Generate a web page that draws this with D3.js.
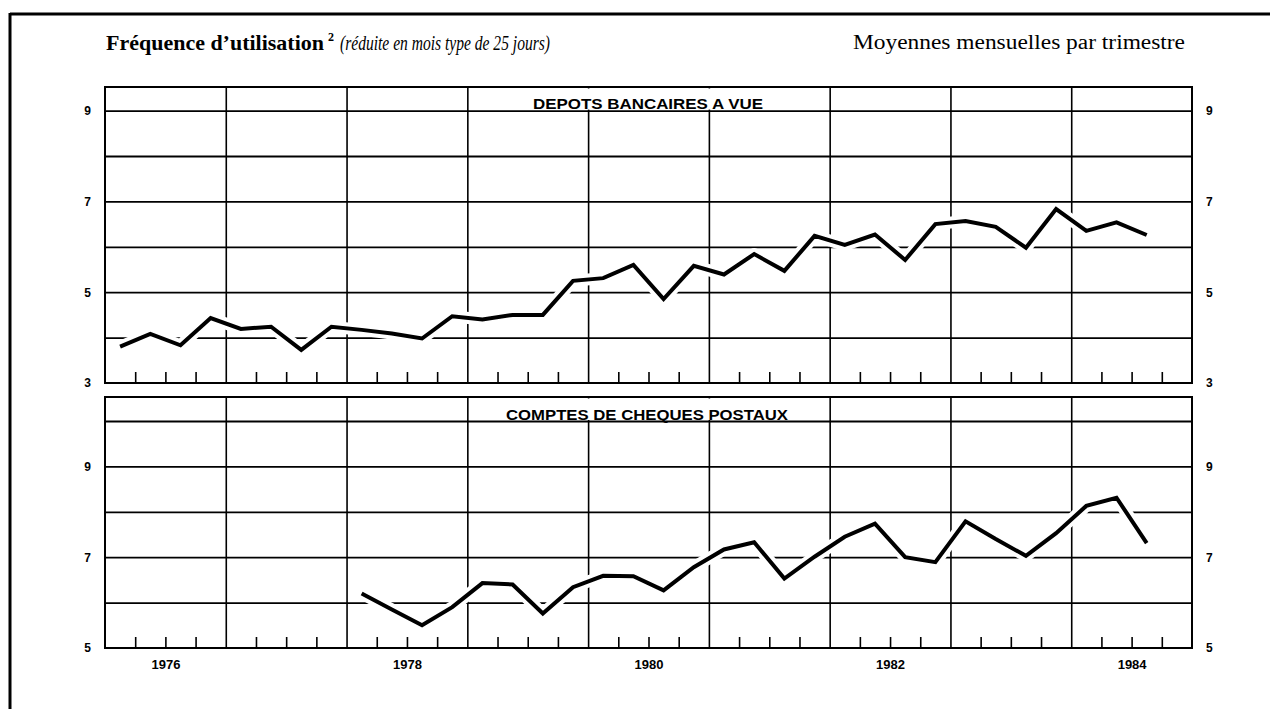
<!DOCTYPE html>
<html>
<head>
<meta charset="utf-8">
<script src="https://cdn.jsdelivr.net/npm/d3@7"></script>
<style>
  body { margin: 0; background: #fff; }
  svg { display: block; }
</style>
</head>
<body>
<svg id="chart" width="1270" height="709"></svg>
<script>
// --- data ---
const years = [1976, 1977, 1978, 1979, 1980, 1981, 1982, 1983, 1984]
const quarterNames = ['T1', 'T2', 'T3', 'T4']
const yearLabels = [1976, 1978, 1980, 1982, 1984]

const depotsTitle = 'DEPOTS BANCAIRES A VUE'
const depotsStart = '1976T1'
const depotsValues = [3.80, 4.08, 3.83, 4.43, 4.19, 4.24, 3.73, 4.24, 4.17, 4.09, 3.98, 4.47,
  4.40, 4.50, 4.50, 5.25, 5.31, 5.60, 4.85, 5.58, 5.39, 5.84, 5.47, 6.24,
  6.04, 6.27, 5.71, 6.50, 6.57, 6.44, 5.98, 6.83, 6.35, 6.54, 6.26]
const depotsTicks = [3, 5, 7, 9]

const ccpTitle = 'COMPTES DE CHEQUES POSTAUX'
const ccpStart = '1978T1'
const ccpValues = [6.20, 5.85, 5.50, 5.90, 6.43, 6.40, 5.76, 6.34, 6.59, 6.58, 6.27, 6.78,
  7.17, 7.33, 6.53, 7.01, 7.45, 7.74, 7.00, 6.89, 7.79, 7.40, 7.03, 7.53,
  8.13, 8.31, 7.31]
const ccpTicks = [5, 7, 9]

const quarters = years.flatMap(y => quarterNames.map(q => y + q))

const svg = d3.select('#chart')
svg.append('rect').attr('width', 1270).attr('height', 709).attr('fill', '#fff')

const left = 105, right = 1192
const xYear = d3.scaleLinear().domain([1976, 1985]).range([left, right])
const xQ = d3.scaleBand().domain(quarters).range([left, right]).padding(0)
const xMid = q => xQ(q) + xQ.bandwidth() / 2

// page frame
svg.append('line').attr('x1', 10).attr('x2', 1270).attr('y1', 14).attr('y2', 14)
  .attr('stroke', '#000').attr('stroke-width', 3)
svg.append('line').attr('x1', 10).attr('x2', 10).attr('y1', 13).attr('y2', 709)
  .attr('stroke', '#000').attr('stroke-width', 3)

// heading
svg.append('text').attr('x', 106).attr('y', 50)
  .attr('font-family', 'Liberation Serif').attr('font-weight', 'bold').attr('font-size', 21)
  .attr('textLength', 218).attr('lengthAdjust', 'spacingAndGlyphs')
  .text('Fréquence d\u2019utilisation')
svg.append('text').attr('x', 328).attr('y', 41)
  .attr('font-family', 'Liberation Serif').attr('font-weight', 'bold').attr('font-size', 12)
  .text('2')
svg.append('text').attr('x', 340).attr('y', 50)
  .attr('font-family', 'Liberation Serif').attr('font-style', 'italic').attr('font-size', 20)
  .attr('textLength', 210).attr('lengthAdjust', 'spacingAndGlyphs')
  .text('(réduite en mois type de 25 jours)')
svg.append('text').attr('x', 853).attr('y', 49)
  .attr('font-family', 'Liberation Serif').attr('font-size', 20)
  .attr('textLength', 332).attr('lengthAdjust', 'spacingAndGlyphs')
  .text('Moyennes mensuelles par trimestre')

const panels = [
  {title: depotsTitle, start: depotsStart, values: depotsValues, ticks: depotsTicks,
   min: 3, max: 9, top: 87, bottom: 383, titleX: 648, titleW: 230},
  {title: ccpTitle, start: ccpStart, values: ccpValues, ticks: ccpTicks,
   min: 5, max: 10, top: 397, bottom: 648, titleX: 647, titleW: 282}
]

const quarterTicks = years.flatMap(y => [0.25, 0.5, 0.75].map(f => y + f))

panels.forEach(p => {
  const unit = 45.4
  const yBase = d3.scaleLinear().domain([p.min, p.max]).range([p.bottom, p.bottom - unit * (p.max - p.min)])
  const topVal = yBase.invert(p.top)
  const y = d3.scaleLinear().domain([p.min, topVal]).range([p.bottom, p.top])
  const g = svg.append('g')

  // horizontal grid
  g.append('g').attr('transform', `translate(${left},0)`)
    .call(d3.axisLeft(y).tickValues(d3.range(p.min + 1, p.max + 1)).tickSize(-(right - left)).tickFormat(''))
    .call(a => a.select('.domain').remove())
    .call(a => a.selectAll('line').attr('stroke', '#000').attr('stroke-width', 1.8))

  // year verticals
  g.append('g').attr('transform', `translate(0,${p.top})`)
    .call(d3.axisBottom(xYear).tickValues(years.slice(1)).tickSize(p.bottom - p.top).tickFormat(''))
    .call(a => a.select('.domain').remove())
    .call(a => a.selectAll('line').attr('stroke', '#000').attr('stroke-width', 1.6))

  // quarter ticks
  g.append('g').attr('transform', `translate(0,${p.bottom})`)
    .call(d3.axisBottom(xYear).tickValues(quarterTicks).tickSize(-11).tickFormat(''))
    .call(a => a.select('.domain').remove())
    .call(a => a.selectAll('line').attr('stroke', '#000').attr('stroke-width', 1.6))

  // frame
  g.append('rect').attr('x', left).attr('y', p.top)
    .attr('width', right - left).attr('height', p.bottom - p.top)
    .attr('fill', 'none').attr('stroke', '#000').attr('stroke-width', 2)

  // value labels
  const styleLabels = a => {
    a.select('.domain').remove()
    a.selectAll('text').attr('font-family', 'Liberation Sans').attr('font-weight', 'bold')
      .attr('font-size', 12).attr('fill', '#000')
  }
  g.append('g').attr('transform', `translate(${left},0)`)
    .call(d3.axisLeft(y).tickValues(p.ticks).tickSize(0).tickPadding(14).tickFormat(d3.format('d')))
    .call(styleLabels)
  g.append('g').attr('transform', `translate(${right},0)`)
    .call(d3.axisRight(y).tickValues(p.ticks).tickSize(0).tickPadding(14).tickFormat(d3.format('d')))
    .call(styleLabels)

  // series
  const startIdx = quarters.indexOf(p.start)
  const pts = p.values.map((v, i) => [xMid(quarters[startIdx + i]), y(v)])
  const line = d3.line()
  g.append('path').attr('d', line(pts)).attr('fill', 'none')
    .attr('stroke', '#fff').attr('stroke-width', 12).attr('stroke-linejoin', 'round')
  g.append('path').attr('d', line(pts)).attr('fill', 'none')
    .attr('stroke', '#000').attr('stroke-width', 4).attr('stroke-linejoin', 'miter')

  // panel title sitting on the top gridline
  const baseY = y(p.max)
  g.append('rect').attr('x', p.titleX - p.titleW / 2 - 3).attr('y', p.top + 1.5)
    .attr('width', p.titleW + 6).attr('height', baseY - p.top - 2.5).attr('fill', '#fff')
  g.append('text').attr('x', p.titleX).attr('y', baseY - 1.5)
    .attr('text-anchor', 'middle')
    .attr('font-family', 'Liberation Sans').attr('font-weight', 'bold').attr('font-size', 15)
    .attr('textLength', p.titleW).attr('lengthAdjust', 'spacingAndGlyphs')
    .text(p.title)
})

// year labels under the lower panel
svg.append('g').attr('transform', `translate(0,${panels[1].bottom})`)
  .call(d3.axisBottom(xYear).tickValues(yearLabels.map(y => y + 0.5)).tickSize(0).tickPadding(12)
    .tickFormat(d => Math.floor(d)))
  .call(a => a.select('.domain').remove())
  .call(a => a.selectAll('text').attr('font-family', 'Liberation Sans').attr('font-weight', 'bold')
    .attr('font-size', 13).attr('fill', '#000'))
</script>
</body>
</html>
